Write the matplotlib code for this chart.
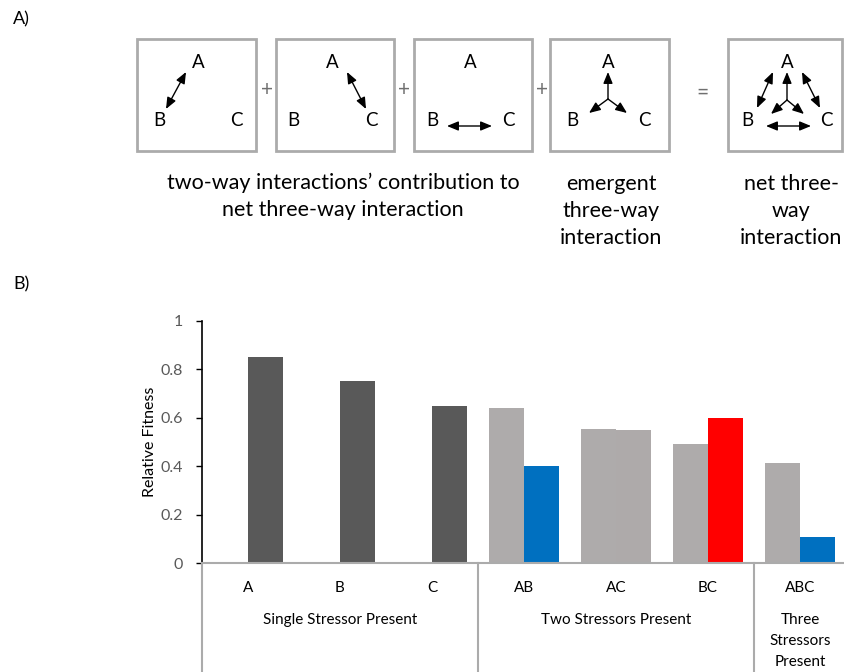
import numpy as np
import matplotlib
matplotlib.use("Agg")
import matplotlib.pyplot as plt
from matplotlib import transforms
from matplotlib.patches import Rectangle

plt.rcParams['font.family'] = ['Lato', 'DejaVu Sans']

# ---------------- data ----------------
categories = ['A', 'B', 'C', 'AB', 'AC', 'BC', 'ABC']
groups = ['Single Stressor Present', 'Two Stressors Present', 'Three\nStressors\nPresent']
group_sizes = [3, 3, 1]
series_pred = [np.nan, np.nan, np.nan, 0.64, 0.555, 0.49, 0.415]   # light gray bars
series_obs = [0.85, 0.75, 0.65, 0.40, 0.55, 0.60, 0.11]           # coloured bars
obs_colors = ['#595959', '#595959', '#595959', '#0070C0', '#AEAAAA', '#FF0000', '#0070C0']
pred_color = '#AEABAB'
yticks = [0, 0.2, 0.4, 0.6, 0.8, 1.0]
ytick_labels = ['0', '0.2', '0.4', '0.6', '0.8', '1']

W, H = 844, 672
fig = plt.figure(figsize=(W / 100, H / 100), dpi=100)

# ---------------- panel A (schematic) ----------------
ov = fig.add_axes([0, 0, 1, 1])
ov.set_xlim(0, W)
ov.set_ylim(H, 0)
ov.axis('off')
ov.patch.set_alpha(0)

ov.text(13, 19, 'A)', fontsize=13, ha='left', va='center')
ov.text(13, 284, 'B)', fontsize=13, ha='left', va='center')

boxes = [(137, 256), (276, 394), (414, 532), (550, 669), (728, 842)]
for x0, x1 in boxes:
    ov.add_patch(Rectangle((x0, 39), x1 - x0, 112, fill=False, ec='#ABABAB', lw=2))

def letters(pa, pb, pc):
    for t, p in zip('ABC', (pa, pb, pc)):
        ov.text(p[0], p[1], t, fontsize=13.5, ha='center', va='center')

def arr(p0, p1, style='<|-|>'):
    ov.annotate('', xy=p1, xytext=p0,
                arrowprops=dict(arrowstyle=style + ',head_length=0.85,head_width=0.35',
                                lw=1, color='black', mutation_scale=8,
                                shrinkA=0, shrinkB=0))

# box 1
letters((198, 62), (159, 120), (236, 120))
arr((166, 109), (186, 72))
# box 2
letters((332, 62), (293, 120), (371, 120))
arr((347, 72), (366, 109))
# box 3
letters((470, 62), (432, 120), (508, 120))
arr((447, 126), (492, 126))
# box 4
letters((608, 62), (572, 120), (644, 120))
c4 = (608, 99)
arr(c4, (608, 72), '-|>')
arr(c4, (589, 113), '-|>')
arr(c4, (627, 113), '-|>')
# box 5
letters((787, 62), (747, 120), (826, 120))
c5 = (787, 100)
arr(c5, (787, 72), '-|>')
arr(c5, (771, 114), '-|>')
arr(c5, (804, 114), '-|>')
arr((773, 72), (757, 108))
arr((802, 72), (820, 108))
arr((766, 126), (811, 126))

# operators
for x in (267, 404, 542):
    ov.text(x, 90, '+', fontsize=15, ha='center', va='center', color='#6F6F6F')
ov.text(703, 93, '=', fontsize=15, ha='center', va='center', color='#6F6F6F')

# captions
cap_kw = dict(fontsize=15.5, ha='center', va='center', linespacing=1.42)
ov.text(343, 196, "two-way interactions\u2019 contribution to\nnet three-way interaction", **cap_kw)
ov.text(611, 211, "emergent\nthree-way\ninteraction", **cap_kw)
ov.text(791, 211, "net three-\nway\ninteraction", **cap_kw)

# ---------------- panel B (bars) ----------------
left_px, right_px = 202, 846
top_px, bot_px = 320.7, 563.3
ax = fig.add_axes([left_px / W, (H - bot_px) / H, (right_px - left_px) / W, (bot_px - top_px) / H])
ax.patch.set_alpha(0)

x = np.arange(len(categories))
bw = 0.38
ax.bar(x, series_pred, width=-bw, align='edge', color=pred_color)
ax.bar(x, series_obs, width=bw, align='edge', color=obs_colors)

ax.set_xlim(-0.5, len(categories) - 0.5)
ax.set_ylim(0, 1)
ax.set_yticks(yticks)
ax.set_yticklabels(ytick_labels, color='#595959', fontsize=11.5)
ax.tick_params(axis='y', direction='out', length=4, width=1, color='black', pad=10)
ax.set_xticks([])
for s in ('top', 'right'):
    ax.spines[s].set_visible(False)
ax.spines['left'].set_color('black')
ax.spines['left'].set_linewidth(1.2)
ax.spines['bottom'].set_color('#ABABAB')
ax.spines['bottom'].set_linewidth(1.5)
ax.set_ylabel('Relative Fitness', fontsize=11.5, labelpad=2)

axh = bot_px - top_px
tr = transforms.blended_transform_factory(ax.transData, ax.transAxes)

# category labels
for xi, c in zip(x, categories):
    ax.text(xi, -25 / axh, c, transform=tr, ha='center', va='center', fontsize=11)

# group separators and labels
start = 0
for g, n in zip(groups, group_sizes):
    ax.plot([start - 0.5, start - 0.5], [0, -(H - bot_px + 5) / axh], transform=tr,
            color='#ABABAB', lw=1.5, clip_on=False)
    cx = start + (n - 1) / 2
    for k, line in enumerate(g.split('\n')):
        ax.text(cx, -(57 + 21 * k) / axh, line, transform=tr, ha='center', va='center',
                fontsize=11)
    start += n
ax.plot([start - 0.5, start - 0.5], [0, -(H - bot_px + 5) / axh], transform=tr,
        color='#ABABAB', lw=1.5, clip_on=False)

fig.savefig('out.png', dpi=100)
